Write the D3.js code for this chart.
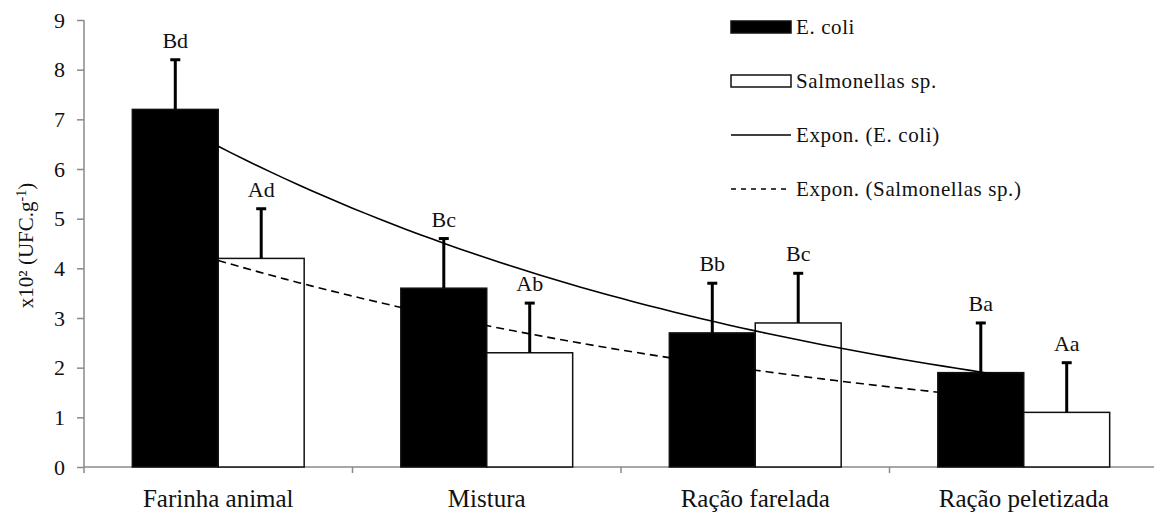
<!DOCTYPE html>
<html>
<head>
<meta charset="utf-8">
<script src="https://cdn.jsdelivr.net/npm/d3@7"></script>
<style>
  body { margin: 0; background: #fff; }
  #graph { width: 1154px; height: 520px; }
  text { font-family: "Liberation Serif", "Times New Roman", serif; fill: #111; }
</style>
</head>
<body>
<div id="graph"></div>
<script>
// data
const categories = ["Farinha animal", "Mistura", "Ração farelada", "Ração peletizada"];
const seriesNames = ["E. coli", "Salmonellas sp."];
const ecoli = [7.2, 3.6, 2.7, 1.9];
const salmonella = [4.2, 2.3, 2.9, 1.1];
const ecoliErr = [1.0, 1.0, 1.0, 1.0];
const salmonellaErr = [1.0, 1.0, 1.0, 1.0];
const ecoliLetters = ["Bd", "Bc", "Bb", "Ba"];
const salmonellaLetters = ["Ad", "Ab", "Bc", "Aa"];
const yTicks = [0, 1, 2, 3, 4, 5, 6, 7, 8, 9];

const width = 1154, height = 520;
const margin = { left: 84, right: -4, top: 20, bottom: 53 };

function container() {
    return document.querySelector("#graph");
}

const x0 = d3.scaleBand()
    .domain(categories)
    .range([margin.left, width - margin.right])
    .paddingInner(0.36)
    .paddingOuter(0.18);

const x1 = d3.scaleBand()
    .domain(seriesNames)
    .range([0, x0.bandwidth()]);

const y = d3.scaleLinear()
    .domain([0, 9])
    .range([height - margin.bottom, margin.top]);

const rows = categories.map((c, i) => ([
    { cat: c, name: seriesNames[0], value: ecoli[i], err: ecoliErr[i], letter: ecoliLetters[i], fill: "#000" },
    { cat: c, name: seriesNames[1], value: salmonella[i], err: salmonellaErr[i], letter: salmonellaLetters[i], fill: "#fff" }
])).flat();

// Excel style exponential trendline: least squares on ln(y) against category number 1..n
function expFit(values) {
    const xs = values.map((v, i) => i + 1);
    const ls = values.map(v => Math.log(v));
    const mx = d3.mean(xs), ml = d3.mean(ls);
    const b = d3.sum(xs, (xv, i) => (xv - mx) * (ls[i] - ml)) / d3.sum(xs, xv => (xv - mx) ** 2);
    const a = Math.exp(ml - b * mx);
    return t => a * Math.exp(b * t);
}

function catPos(t) {
    // t is category number (1-based), mapped onto category centres
    const c0 = x0(categories[0]) + x0.bandwidth() / 2;
    return c0 + (t - 1) * x0.step();
}

function main() {
    const svg = d3.select(container()).append("svg")
        .attr("width", width)
        .attr("height", height);

    // axes
    const axisColor = "#8a8a8a";
    const yAxis = svg.append("g")
        .attr("transform", `translate(${margin.left},0)`)
        .call(d3.axisLeft(y).tickValues(yTicks).tickSize(7).tickPadding(12).tickSizeOuter(0));
    yAxis.select(".domain").remove();
    yAxis.append("line")
        .attr("y1", y(9)).attr("y2", y(0) + 6)
        .attr("stroke", axisColor).attr("stroke-width", 1.5);
    yAxis.selectAll(".tick line").attr("stroke", axisColor).attr("stroke-width", 1.5);
    yAxis.selectAll(".tick text")
        .style("font-size", "22px")
        .style("font-family", "'Liberation Serif', serif")
        .attr("fill", "#111");

    const baseY = y(0);
    svg.append("line")
        .attr("x1", margin.left).attr("x2", width)
        .attr("y1", baseY).attr("y2", baseY)
        .attr("stroke", axisColor).attr("stroke-width", 1.5);
    svg.append("g")
        .selectAll("line")
        .data(categories.slice(1))
        .join("line")
        .attr("x1", d => x0(d) - x0.step() * 0.18)
        .attr("x2", d => x0(d) - x0.step() * 0.18)
        .attr("y1", baseY).attr("y2", baseY + 6)
        .attr("stroke", axisColor).attr("stroke-width", 1.5);
    svg.append("g")
        .selectAll("text")
        .data(categories)
        .join("text")
        .attr("x", d => x0(d) + x0.bandwidth() / 2)
        .attr("y", baseY + 40)
        .attr("text-anchor", "middle")
        .style("font-size", "25px")
        .text(d => d);

    const yl = svg.append("text")
        .attr("transform", `translate(33,${(y(0) + y(9)) / 2 + 2}) rotate(-90)`)
        .attr("text-anchor", "middle")
        .style("font-size", "21px");
    yl.append("tspan").text("x10² (UFC.g");
    yl.append("tspan").attr("baseline-shift", "super").style("font-size", "14px").text("-1");
    yl.append("tspan").text(")");

    // bars
    svg.append("g")
        .selectAll("rect")
        .data(rows)
        .join("rect")
        .attr("x", d => x0(d.cat) + x1(d.name))
        .attr("y", d => y(d.value))
        .attr("width", x1.bandwidth())
        .attr("height", d => y(0) - y(d.value))
        .attr("fill", d => d.fill)
        .attr("stroke", "#111")
        .attr("stroke-width", 1.5);

    // error bars (upper only)
    const eb = svg.append("g")
        .selectAll("g")
        .data(rows)
        .join("g")
        .attr("transform", d => `translate(${x0(d.cat) + x1(d.name) + x1.bandwidth() / 2},0)`);
    eb.append("line")
        .attr("y1", d => y(d.value)).attr("y2", d => y(d.value + d.err))
        .attr("stroke", "#000").attr("stroke-width", 3);
    eb.append("line")
        .attr("x1", -5).attr("x2", 5)
        .attr("y1", d => y(d.value + d.err)).attr("y2", d => y(d.value + d.err))
        .attr("stroke", "#000").attr("stroke-width", 3);
    eb.append("text")
        .attr("y", d => y(d.value + d.err) - 12)
        .attr("text-anchor", "middle")
        .style("font-size", "22px")
        .text(d => d.letter);

    // trendlines
    const trends = [
        { fit: expFit(ecoli), dash: null },
        { fit: expFit(salmonella), dash: "8,5" }
    ];
    const line = d3.line().x(d => catPos(d[0])).y(d => y(d[1]));
    trends.forEach(tr => {
        const pts = d3.range(1, 4.001, 0.05).map(t => [t, tr.fit(t)]);
        svg.append("path")
            .attr("d", line(pts))
            .attr("fill", "none")
            .attr("stroke", "#000")
            .attr("stroke-width", 1.6)
            .attr("stroke-dasharray", tr.dash);
    });

    // legend
    const legendItems = [
        { label: "E. coli", kind: "fill", fill: "#000" },
        { label: "Salmonellas sp.", kind: "fill", fill: "#fff" },
        { label: "Expon. (E. coli)", kind: "line", dash: null },
        { label: "Expon. (Salmonellas sp.)", kind: "line", dash: "5,5" }
    ];
    const lg = svg.append("g")
        .selectAll("g")
        .data(legendItems)
        .join("g")
        .attr("transform", (d, i) => `translate(731,${27 + i * 54})`);
    lg.filter(d => d.kind == "fill").append("rect")
        .attr("x", 0).attr("y", -6)
        .attr("width", 60).attr("height", 12)
        .attr("fill", d => d.fill)
        .attr("stroke", "#111").attr("stroke-width", 1.5);
    lg.filter(d => d.kind == "line").append("line")
        .attr("x1", 0).attr("x2", 60)
        .attr("stroke", "#000").attr("stroke-width", 1.5)
        .attr("stroke-dasharray", d => d.dash);
    lg.append("text")
        .attr("x", 65).attr("y", 7)
        .style("font-size", "21px")
        .style("letter-spacing", "0.6px")
        .text(d => d.label);
}

main();
</script>
</body>
</html>
